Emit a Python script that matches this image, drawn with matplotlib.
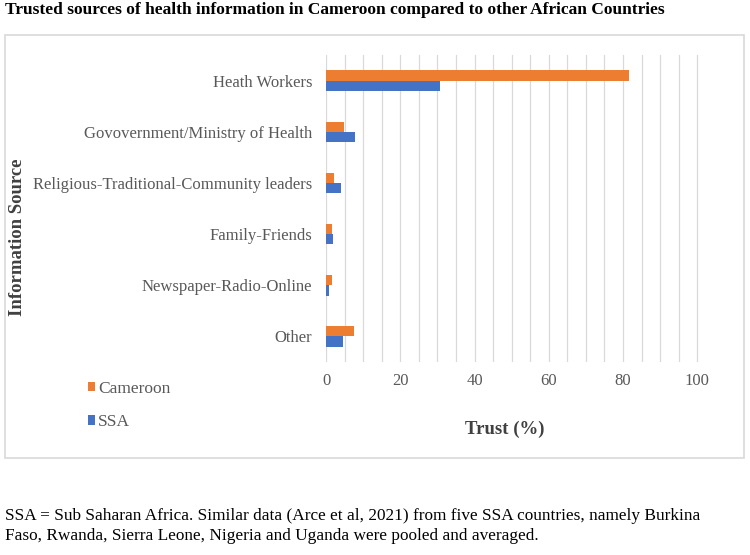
import numpy as np
import matplotlib.pyplot as plt
from matplotlib.patches import Rectangle

# data
sources = ['Heath Workers', 'Govovernment/Ministry of Health',
           'Religious-Traditional-Community leaders', 'Family-Friends',
           'Newspaper-Radio-Online', 'Other']
cameroon = [81.5, 4.8, 2.2, 1.6, 1.5, 7.6]
ssa = [30.7, 7.7, 4.0, 1.8, 0.7, 4.5]
xticks = [0, 20, 40, 60, 80, 100]

orange = '#ED7D31'
blue = '#4472C4'
txtgrey = '#595959'

plt.rcParams['font.family'] = 'Liberation Serif'

fig = plt.figure(figsize=(7.5, 5.55), dpi=100)

# outer grey frame round the chart
fig.patches.append(Rectangle((0.006, 0.175), 0.986, 0.762, transform=fig.transFigure,
                             fill=False, edgecolor='#d9d9d9', lw=1.2))

ax = fig.add_axes([0.4347, 0.3477, 0.5, 0.5532])
y = np.arange(len(sources))
h = 0.2
ax.barh(y - h/2, cameroon, height=h, color=orange, label='Cameroon', zorder=3)
ax.barh(y + h/2, ssa, height=h, color=blue, label='SSA', zorder=3)

ax.set_xlim(0, 101)
ax.set_ylim(len(sources) - 0.5, -0.5)
ax.set_xticks(xticks)
ax.set_xticks(np.arange(0, 101, 5), minor=True)
ax.grid(axis='x', which='both', color='#d9d9d9', lw=0.9, zorder=0)
ax.set_yticks(y)
ax.set_yticklabels(sources)
ax.tick_params(axis='both', which='both', length=0, labelsize=12, colors=txtgrey)
ax.tick_params(axis='y', pad=10)
ax.tick_params(axis='x', pad=8)
for s in ax.spines.values():
    s.set_visible(False)

fig.text(505/750, 1 - 429/555, 'Trust (%)', ha='center', va='center',
         fontsize=13.5, fontweight='bold', color='#404040')
fig.text(18/750, 1 - 237/555, 'Information Source', rotation=90, ha='center', va='center',
         fontsize=13.5, fontweight='bold', color='#404040')

fig.legend(loc='upper left', bbox_to_anchor=(79/750, 1 - 372/555), frameon=False,
           borderpad=0, handlelength=0.45, handleheight=0.45, handletextpad=0.15,
           labelspacing=1.0, prop={'family': 'Liberation Serif', 'size': 12.5},
           labelcolor=txtgrey)

fig.text(0.007, 1 - 10/555, 'Trusted sources of health information in Cameroon compared to other African Countries',
         fontsize=12.5, fontweight='bold', va='center', ha='left')
fig.text(0.007, 1 - 526/555,
         'SSA = Sub Saharan Africa. Similar data (Arce et al, 2021) from five SSA countries, namely Burkina\n'
         'Faso, Rwanda, Sierra Leone, Nigeria and Uganda were pooled and averaged.',
         fontsize=12.4, family='Liberation Serif', va='center', ha='left', linespacing=1.25)

plt.savefig('out.png', dpi=100)
